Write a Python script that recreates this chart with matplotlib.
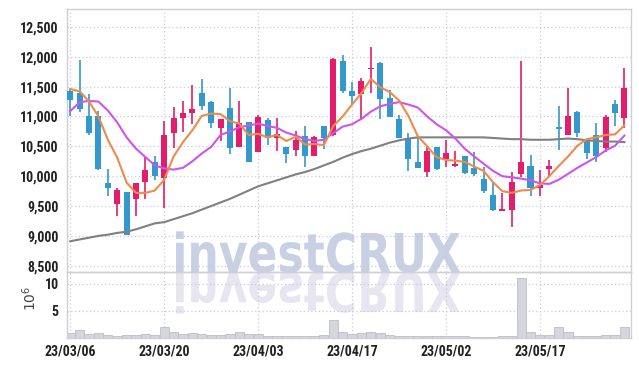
import matplotlib
matplotlib.use('Agg')
import matplotlib.pyplot as plt
from matplotlib.textpath import TextPath
from matplotlib.patches import PathPatch
from matplotlib.font_manager import FontProperties, fontManager
from matplotlib.transforms import Affine2D

# ------------------------------------------------------------
# data (daily candles, 2023-03-06 .. 2023-05-31)
# ------------------------------------------------------------
tick_pos = [0, 10, 20, 30, 40, 50]
tick_labels = ['23/03/06', '23/03/20', '23/04/03', '23/04/17', '23/05/02', '23/05/17']

opens = [11420, 11390, 11010, 11010, 9880, 9540, 9730, 9610, 9900, 10240,
         9970, 10730, 10980, 11050, 11400, 11250, 10810, 11140, 10490, 10910,
         10400, 10940, 10640, 10490, 10440, 10680, 10340, 10840, 10690, 11930,
         11430, 11380, 11790, 11890, 11310, 10960, 10640, 10230, 10070, 10490,
         10290, 10170, 10340, 10140, 9960, 9680, 9420, 9440, 10040, 10170,
         9800, 10120, 10820, 10690, 11080, 10610, 10690, 10480, 11210, 10980]
highs = [11460, 11940, 11370, 11090, 10120, 9800, 9730, 9890, 10330, 10330,
         10930, 11160, 11260, 11520, 11620, 11260, 10960, 11470, 11260, 10910,
         11020, 10980, 10980, 10490, 10750, 10840, 10680, 10840, 11980, 12030,
         11570, 11640, 12170, 11920, 11440, 11020, 10730, 10640, 10490, 10490,
         10610, 10420, 10340, 10410, 10150, 9900, 9710, 10070, 11930, 10360,
         10110, 10270, 11170, 11480, 11090, 10610, 10890, 11030, 11270, 11820]
lows = [11010, 11080, 10690, 10110, 9660, 9340, 9020, 9330, 9610, 9930,
        9460, 10480, 10740, 10870, 11110, 10810, 10590, 10370, 10490, 10230,
        10400, 10530, 10430, 10220, 10340, 10150, 10340, 10460, 10680, 11400,
        11210, 10940, 11400, 10960, 10990, 10640, 10080, 10130, 9980, 10110,
        10150, 10150, 10040, 10000, 9720, 9410, 9420, 9150, 9980, 9670,
        9660, 10000, 10440, 10690, 10650, 10280, 10230, 10410, 10840, 10810]
closes = [11280, 11130, 10720, 10120, 9800, 9770, 9020, 9890, 10110, 10000,
          10690, 10980, 11060, 11130, 11170, 10890, 10960, 10470, 10890, 10230,
          10990, 10640, 10710, 10370, 10610, 10340, 10650, 10640, 11970, 11420,
          11340, 11590, 11820, 11300, 10990, 10640, 10280, 10130, 10430, 10120,
          10390, 10210, 10060, 10030, 9760, 9440, 9440, 9910, 10240, 9800,
          9860, 10170, 10790, 11010, 10730, 10380, 10330, 10990, 11050, 11480]

ma5 = [11460, 11420, 11250, 11000, 10610, 10310, 9890, 9720, 9720, 9760,
       9940, 10330, 10570, 10770, 11010, 11050, 11040, 10920, 10880, 10690,
       10710, 10650, 10690, 10590, 10660, 10530, 10540, 10520, 10840, 11000,
       11200, 11390, 11630, 11490, 11410, 11270, 11010, 10670, 10500, 10320,
       10270, 10260, 10240, 10160, 10090, 9900, 9750, 9720, 9760, 9770,
       9850, 10000, 10170, 10330, 10510, 10620, 10650, 10690, 10700, 10850]
ma10 = [11090, 11240, 11260, 11250, 11100, 10900, 10650, 10460, 10320, 10180,
        10130, 10110, 10140, 10250, 10380, 10490, 10690, 10750, 10820, 10850,
        10880, 10840, 10810, 10730, 10680, 10620, 10590, 10610, 10720, 10830,
        10870, 10960, 11080, 11170, 11210, 11240, 11200, 11150, 11000, 10870,
        10770, 10630, 10460, 10330, 10210, 10090, 10000, 9980, 9960, 9930,
        9880, 9870, 9940, 10040, 10140, 10230, 10320, 10430, 10510, 10680]
ma60 = [8910, 8940, 8970, 9000, 9020, 9050, 9070, 9110, 9160, 9210,
        9230, 9280, 9330, 9380, 9440, 9500, 9560, 9620, 9690, 9760,
        9830, 9880, 9930, 9980, 10030, 10070, 10120, 10180, 10240, 10310,
        10370, 10420, 10460, 10510, 10560, 10600, 10630, 10650, 10650, 10650,
        10650, 10650, 10650, 10650, 10650, 10640, 10630, 10620, 10620, 10610,
        10610, 10610, 10620, 10630, 10620, 10600, 10590, 10580, 10580, 10570]

# volume, in millions of shares
volume = [0.9, 1.4, 0.8, 0.9, 0.6, 0.4, 0.6, 0.6, 0.8, 0.6,
          2.0, 1.2, 0.8, 0.9, 0.7, 0.5, 0.5, 0.8, 1.2, 0.7,
          0.8, 0.4, 0.3, 0.3, 0.3, 0.3, 0.3, 0.5, 3.3, 1.2,
          0.7, 1.0, 1.2, 1.0, 0.6, 0.4, 0.3, 0.3, 0.3, 0.3,
          0.3, 0.3, 0.3, 0.2, 0.2, 0.2, 0.3, 0.4, 11.1, 1.2,
          0.6, 0.6, 2.1, 1.2, 0.3, 0.3, 0.3, 0.6, 0.6, 2.1]

UP = '#e31c6b'
DOWN = '#3399cc'
GRID = '#c6cadc'
SPINE = '#cfcfd8'
TXT = '#222222'

# pick a narrow face if one is installed
installed = {f.name for f in fontManager.ttflist}
narrow = next((n for n in ['Roboto Condensed', 'Liberation Sans Narrow', 'Roboto']
               if n in installed), 'DejaVu Sans')
tick_font = dict(family=narrow, weight='bold', size=10)

W, H = 639, 366
fig = plt.figure(figsize=(W / 100, H / 100), dpi=100)
ax = fig.add_axes([67 / W, 1 - 272 / H, 564 / W, 263 / H])
axv = fig.add_axes([67 / W, 1 - 338 / H, 564 / W, 66 / H], sharex=ax)
for a in (ax, axv):
    a.set_facecolor('none')
    for s in a.spines.values():
        s.set_color(SPINE)
        s.set_linewidth(1.0)
    a.grid(True, color=GRID, linestyle=(0, (1, 2)), linewidth=0.9)
    a.set_axisbelow(True)
    a.tick_params(length=0, pad=6, colors=TXT)

# ------------------------------------------------------------
# watermark "investCRUX" + reflection (behind the axes)
# ------------------------------------------------------------
tp = TextPath((0, 0), 'investCRUX', size=100,
              prop=FontProperties(family='DejaVu Sans', weight='bold'))
ext = tp.get_extents()
sx = (460 - 176) / ext.width
sy = 39 / 72.9
to_fig = Affine2D().scale(1 / W, 1 / H) + fig.transFigure
main_tr = Affine2D().translate(-ext.x0, 0).scale(sx, sy).translate(176, H - 272) + to_fig
refl_tr = Affine2D().translate(-ext.x0, 0).scale(sx, -sy).translate(176, H - 273) + to_fig
fig.patches.append(PathPatch(tp, transform=refl_tr, facecolor='#e7e5ef', edgecolor='none', zorder=-2))
fig.patches.append(PathPatch(tp, transform=main_tr, facecolor='#c9d0e3', edgecolor='none', zorder=-1))

# ------------------------------------------------------------
# candles
# ------------------------------------------------------------
x = list(range(len(closes)))
colors = [UP if c >= o else DOWN for o, c in zip(opens, closes)]
ax.vlines(x, lows, highs, colors=colors, linewidth=1.2, zorder=2)
bottoms = [min(o, c) for o, c in zip(opens, closes)]
heights = [max(abs(c - o), 25) for o, c in zip(opens, closes)]
ax.bar(x, heights, bottom=bottoms, width=0.64, color=colors, zorder=3)

ax.plot(x, ma60, color='#808080', linewidth=1.5, zorder=4)
ax.plot(x, ma10, color='#cc55ee', linewidth=1.5, zorder=4)
ax.plot(x, ma5, color='#ee8a4a', linewidth=1.5, zorder=4)

ax.set_ylim(8395, 12800)
ax.set_yticks(range(8500, 12501, 500))
ax.set_yticklabels([f'{v:,}' for v in range(8500, 12501, 500)], **tick_font)
ax.set_xlim(-0.35, len(closes) - 0.3)
ax.set_xticks(tick_pos)
ax.tick_params(axis='x', labelbottom=False)

# ------------------------------------------------------------
# volume
# ------------------------------------------------------------
axv.bar(x, volume, width=0.98, color='#d5d5dd', edgecolor='#bdbdc6', linewidth=0.6, zorder=2)
axv.set_ylim(0, 12.2)
axv.set_yticks([5, 10])
axv.set_yticklabels(['5', '10'], **tick_font)
axv.set_xticks(tick_pos)
axv.set_xticklabels(tick_labels, **tick_font)
axv.tick_params(axis='x', pad=5)
axv.text(-0.066, 0.6, '$10^6$', transform=axv.transAxes, rotation=90,
         ha='center', va='center', fontsize=10, color='#444444')

fig.savefig('out.png', dpi=100)
